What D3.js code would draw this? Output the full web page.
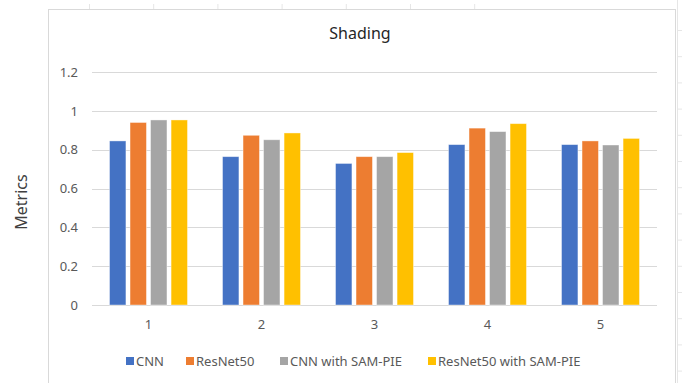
<!DOCTYPE html>
<html>
<head>
<meta charset="utf-8">
<script src="https://cdn.jsdelivr.net/npm/d3@7"></script>
<style>
    body { margin: 0; background: #fff; }
    text { font-family: "Noto Sans", "Open Sans", sans-serif; }
</style>
</head>
<body>
<div id="chart"></div>
<script>
// data
const categories = ["1", "2", "3", "4", "5"];
const seriesNames = ["CNN", "ResNet50", "CNN with SAM-PIE", "ResNet50 with SAM-PIE"];
const cnn = [0.845, 0.764, 0.729, 0.826, 0.826];
const resnet50 = [0.94, 0.874, 0.764, 0.911, 0.845];
const cnnSamPie = [0.953, 0.851, 0.764, 0.893, 0.824];
const resnet50SamPie = [0.953, 0.886, 0.785, 0.934, 0.858];
const yTicks = [0, 0.2, 0.4, 0.6, 0.8, 1, 1.2];

const colors = ["#4472C4", "#ED7D31", "#A5A5A5", "#FFC000"];
const seriesValues = [cnn, resnet50, cnnSamPie, resnet50SamPie];

const W = 682, H = 383;
const margin = {top: 72, right: 25, bottom: 78, left: 92};
const width = W - margin.left - margin.right;
const height = H - margin.top - margin.bottom;

const root = d3.select("#chart").append("svg")
    .attr("width", W)
    .attr("height", H);

// spreadsheet cell lines peeking around the chart frame
root.selectAll(".cellTop")
    .data(d3.range(7))
    .enter().append("line")
    .attr("x1", i => 89.5 + i * 64.2).attr("x2", i => 89.5 + i * 64.2)
    .attr("y1", 4).attr("y2", 9)
    .attr("stroke", "#e6e6e6");
root.append("line")
    .attr("x1", 677.5).attr("x2", 677.5).attr("y1", 0).attr("y2", H)
    .attr("stroke", "#e6e6e6");
root.selectAll(".cellRight")
    .data(d3.range(14))
    .enter().append("line")
    .attr("x1", 678).attr("x2", W)
    .attr("y1", i => 30.5 + i * 26.2).attr("y2", i => 30.5 + i * 26.2)
    .attr("stroke", "#e6e6e6");

// chart frame
root.append("rect")
    .attr("x", 48.5).attr("y", 9.5)
    .attr("width", 627).attr("height", 400)
    .attr("fill", "#fff")
    .attr("stroke", "#d9d9d9");

const svg = root.append("g")
    .attr("transform", "translate(" + margin.left + "," + margin.top + ")");

const x0 = d3.scaleBand()
    .domain(categories)
    .range([0, width])
    .paddingInner(0.31)
    .paddingOuter(0.155);

const x1 = d3.scaleBand()
    .domain(seriesNames)
    .range([0, x0.bandwidth()])
    .paddingInner(0.2);

const y = d3.scaleLinear()
    .domain([0, 1.2])
    .range([height, 0]);

// grid
svg.selectAll(".grid")
    .data(yTicks)
    .enter().append("line")
    .attr("class", "grid")
    .attr("x1", 0).attr("x2", width)
    .attr("y1", d => Math.round(y(d)) + 0.5)
    .attr("y2", d => Math.round(y(d)) + 0.5)
    .attr("stroke", "#d9d9d9");

// y axis labels
let yAxis = d3.axisLeft(y).tickValues(yTicks).tickSize(0).tickPadding(14)
    .tickFormat(d => d);
svg.append("g")
    .attr("class", "y-axis")
    .call(yAxis)
    .call(g => g.select(".domain").remove())
    .selectAll("text")
    .attr("fill", "#595959")
    .style("font-size", "13px");

// x axis labels
let xAxis = d3.axisBottom(x0).tickSize(0).tickPadding(15);
svg.append("g")
    .attr("class", "x-axis")
    .attr("transform", "translate(0," + height + ")")
    .call(xAxis)
    .call(g => g.select(".domain").remove())
    .selectAll("text")
    .attr("fill", "#595959")
    .style("font-size", "13px");

// bars
const groups = svg.selectAll(".group")
    .data(categories)
    .enter().append("g")
    .attr("class", "group")
    .attr("transform", d => "translate(" + x0(d) + ",0)");

groups.selectAll("rect")
    .data((c, ci) => seriesNames.map((s, si) => ({series: s, i: si, value: seriesValues[si][ci]})))
    .enter().append("rect")
    .attr("x", d => x1(d.series))
    .attr("y", d => y(d.value))
    .attr("width", x1.bandwidth())
    .attr("height", d => height - y(d.value))
    .attr("fill", d => colors[d.i])
    .attr("stroke", "#fff")
    .attr("stroke-opacity", 0.5)
    .attr("stroke-width", 0.8);

// title
root.append("text")
    .attr("x", 360)
    .attr("y", 39)
    .attr("text-anchor", "middle")
    .attr("fill", "#262626")
    .style("font-size", "16px")
    .text("Shading");

// y label
root.append("text")
    .attr("transform", "translate(27,202) rotate(-90)")
    .attr("text-anchor", "middle")
    .attr("fill", "#404040")
    .style("font-size", "16px")
    .text("Metrics");

// legend
const legendX = [126, 186, 280, 428];
const legend = root.selectAll(".legend")
    .data(seriesNames)
    .enter().append("g")
    .attr("class", "legend")
    .attr("transform", (d, i) => "translate(" + legendX[i] + ",357)");

legend.append("rect")
    .attr("width", 8).attr("height", 8)
    .attr("fill", (d, i) => colors[i]);

legend.append("text")
    .attr("x", 10)
    .attr("y", 4)
    .attr("dy", "0.35em")
    .attr("fill", "#595959")
    .style("font-size", "13px")
    .text(d => d);
</script>
</body>
</html>
